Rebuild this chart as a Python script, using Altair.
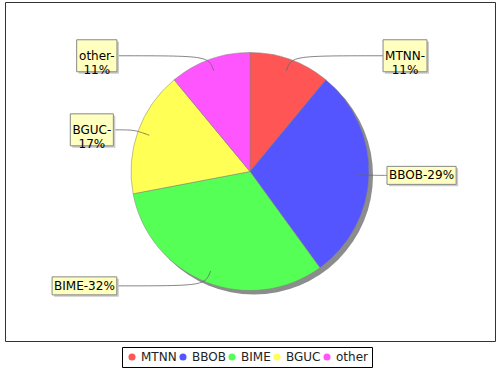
import altair as alt
import numpy as np
import pandas as pd

# ---- data ----
categories = ["MTNN", "BBOB", "BIME", "BGUC", "other"]
values = [11, 29, 32, 17, 11]
colors = ["#FF5555", "#5555FF", "#55FF55", "#FFFF55", "#FF55FF"]

# ---- layout / style ----
W, H = 490, 339
CX, CY = 245, 169.5
R = 119
SHADOW = 4
R_ANCHOR = 0.9 * R
R_LINK = 123
FONT = "DejaVu Sans"
FS = 12
LH = 14

CHAR_W = {"M": 0.863, "T": 0.611, "N": 0.748, "B": 0.686, "O": 0.787, "I": 0.295,
          "E": 0.632, "G": 0.779, "U": 0.731, "C": 0.698, "o": 0.612, "t": 0.392,
          "h": 0.634, "e": 0.615, "r": 0.411, "-": 0.361, "%": 0.950}


def text_w(s):
    return sum(CHAR_W.get(ch, 0.636) for ch in s) * FS


total = sum(values)
pie_df = pd.DataFrame({"category": categories, "value": values, "idx": range(len(values))})

box_rows, line_rows = [], []
cum = 0
for c, v in zip(categories, values):
    pct = round(100 * v / total)
    mid = (cum + v / 2) / total * 2 * np.pi
    cum += v
    s, co = np.sin(mid), np.cos(mid)
    ax, ay = CX + s * R_ANCHOR, CY - co * R_ANCHOR
    ex, ey = CX + s * R_LINK, CY - co * R_LINK
    right = s > 0
    gap = 131 + 6 * abs(s)
    tx = CX + gap if right else CX - gap
    ty = ey
    lines = [f"{c}-", f"{pct}%"] if co > 0 else [f"{c}-{pct}%"]
    bw = max(text_w(t) for t in lines) + 4
    bh = LH * len(lines) + 4
    x0 = tx if right else tx - bw
    box_rows.append({"category": c, "x0": x0, "x1": x0 + bw, "y0": ty - bh / 2,
                     "y1": ty + bh / 2, "xc": x0 + bw / 2, "yc": ty,
                     "sx0": x0 + 2, "sx1": x0 + bw + 2, "sy0": ty - bh / 2 + 2,
                     "sy1": ty + bh / 2 + 2, "label": "\n".join(lines)})
    for t in np.linspace(0, 1, 30):
        bx = (1 - t) ** 3 * ax + 3 * (1 - t) ** 2 * t * ex + 3 * (1 - t) * t ** 2 * ex + t ** 3 * tx
        by = (1 - t) ** 3 * ay + 3 * (1 - t) ** 2 * t * ey + 3 * (1 - t) * t ** 2 * ey + t ** 3 * ty
        line_rows.append({"category": c, "t": t, "x": bx, "y": by})

box_df = pd.DataFrame(box_rows)
line_df = pd.DataFrame(line_rows)

shadow = alt.Chart(pd.DataFrame({"k": [0]})).mark_arc(
    radius=R, theta=0, theta2=2 * np.pi, color="#8c8c8c"
).encode(x=alt.value(CX + SHADOW), y=alt.value(CY + SHADOW))

pie = alt.Chart(pie_df).mark_arc(radius=R, stroke="#808080", strokeWidth=0.5).encode(
    theta=alt.Theta("value:Q", stack=True),
    order=alt.Order("idx:Q"),
    color=alt.Color(
        "category:N",
        scale=alt.Scale(domain=categories, range=colors),
        legend=alt.Legend(
            title=None, orient="none", legendX=117, legendY=345, direction="horizontal",
            symbolType="circle", symbolSize=50, symbolStrokeWidth=0,
            labelFont=FONT, labelFontSize=12, labelColor="#222",
            strokeColor="black", padding=4, columnPadding=0, labelOffset=3,
        ),
    ),
    x=alt.value(CX),
    y=alt.value(CY),
)

connectors = alt.Chart(line_df).mark_line(color="#666666", strokeWidth=0.8).encode(
    x=alt.X("x:Q", scale=None, axis=None),
    y=alt.Y("y:Q", scale=None, axis=None),
    detail="category:N",
    order="t:Q",
)

box_shadow = alt.Chart(box_df).mark_rect(color="#cbcbcb").encode(
    x=alt.X("sx0:Q", scale=None, axis=None), x2="sx1:Q",
    y=alt.Y("sy0:Q", scale=None, axis=None), y2="sy1:Q",
)

boxes = alt.Chart(box_df).mark_rect(fill="#FFFFC0", stroke="#888888", strokeWidth=1).encode(
    x=alt.X("x0:Q", scale=None, axis=None), x2="x1:Q",
    y=alt.Y("y0:Q", scale=None, axis=None), y2="y1:Q",
)

texts = alt.Chart(box_df).mark_text(
    font=FONT, fontSize=FS, lineHeight=LH, lineBreak="\n",
    align="center", baseline="middle", color="black"
).encode(
    x=alt.X("xc:Q", scale=None, axis=None),
    y=alt.Y("yc:Q", scale=None, axis=None),
    text="label:N",
)

chart = alt.layer(shadow, pie, connectors, box_shadow, boxes, texts).properties(
    width=W, height=H,
    padding={"left": 5, "top": 2, "right": 5, "bottom": 29},
    autosize="none",
    background="white",
).configure_view(stroke="#333333", strokeWidth=1).configure_legend(strokeWidth=1)

chart.save("out.html", embed_options={"renderer": "svg", "actions": False})
